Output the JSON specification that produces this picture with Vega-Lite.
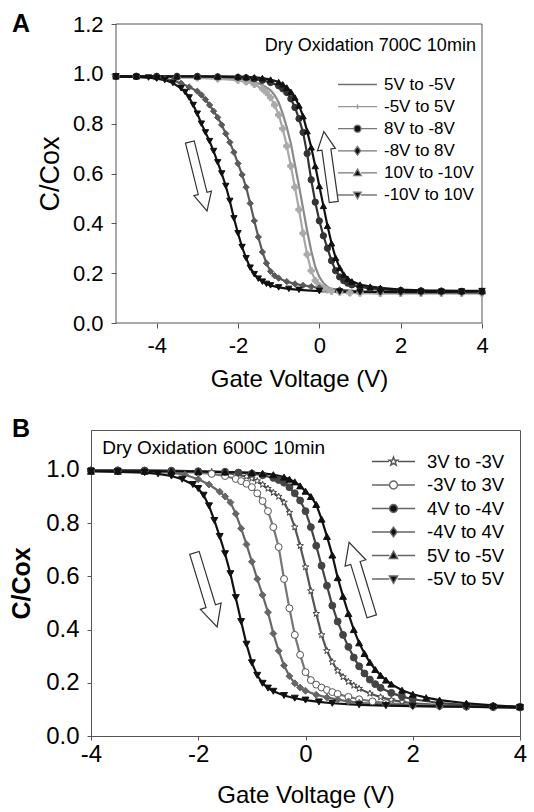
{
"$schema":"https://vega.github.io/schema/vega-lite/v6.json",
"background":"white",
"padding":{"left":9,"top":12,"right":0,"bottom":0},
"spacing":25,
"config":{"font":"Liberation Sans","view":{"stroke":"#555","strokeWidth":1},"axis":{"grid":false,"domainColor":"#555","tickColor":"#555","labelColor":"#000","titleColor":"#000","titleFontWeight":"normal","labelFlush":false},"legend":{"padding":0,"labelColor":"#000"}},
"datasets":{
"A":[
{"s":"5V to -5V","V":-5,"C":0.99},{"s":"5V to -5V","V":-4.5,"C":0.99},{"s":"5V to -5V","V":-4,"C":0.99},{"s":"5V to -5V","V":-3.5,"C":0.988},{"s":"5V to -5V","V":-3,"C":0.986},{"s":"5V to -5V","V":-2.5,"C":0.984},{"s":"5V to -5V","V":-2,"C":0.98},{"s":"5V to -5V","V":-1.8,"C":0.975},{"s":"5V to -5V","V":-1.6,"C":0.968},{"s":"5V to -5V","V":-1.4,"C":0.955},{"s":"5V to -5V","V":-1.2,"C":0.935},{"s":"5V to -5V","V":-1.1,"C":0.915},{"s":"5V to -5V","V":-1,"C":0.885},{"s":"5V to -5V","V":-0.9,"C":0.84},{"s":"5V to -5V","V":-0.8,"C":0.785},{"s":"5V to -5V","V":-0.7,"C":0.72},{"s":"5V to -5V","V":-0.6,"C":0.635},{"s":"5V to -5V","V":-0.5,"C":0.55},{"s":"5V to -5V","V":-0.4,"C":0.46},{"s":"5V to -5V","V":-0.3,"C":0.37},{"s":"5V to -5V","V":-0.2,"C":0.29},{"s":"5V to -5V","V":-0.1,"C":0.225},{"s":"5V to -5V","V":0,"C":0.185},{"s":"5V to -5V","V":0.1,"C":0.16},{"s":"5V to -5V","V":0.2,"C":0.145},{"s":"5V to -5V","V":0.3,"C":0.135},{"s":"5V to -5V","V":0.5,"C":0.127},{"s":"5V to -5V","V":0.75,"C":0.123},{"s":"5V to -5V","V":1,"C":0.121},{"s":"5V to -5V","V":1.5,"C":0.12},{"s":"5V to -5V","V":2,"C":0.12},{"s":"5V to -5V","V":2.5,"C":0.12},{"s":"5V to -5V","V":3,"C":0.12},{"s":"5V to -5V","V":3.5,"C":0.12},{"s":"5V to -5V","V":4,"C":0.12},
{"s":"-5V to 5V","V":-5,"C":0.99},{"s":"-5V to 5V","V":-4.5,"C":0.99},{"s":"-5V to 5V","V":-4,"C":0.988},{"s":"-5V to 5V","V":-3.5,"C":0.986},{"s":"-5V to 5V","V":-3,"C":0.984},{"s":"-5V to 5V","V":-2.5,"C":0.98},{"s":"-5V to 5V","V":-2,"C":0.975},{"s":"-5V to 5V","V":-1.8,"C":0.968},{"s":"-5V to 5V","V":-1.6,"C":0.958},{"s":"-5V to 5V","V":-1.4,"C":0.94},{"s":"-5V to 5V","V":-1.3,"C":0.925},{"s":"-5V to 5V","V":-1.2,"C":0.905},{"s":"-5V to 5V","V":-1.1,"C":0.875},{"s":"-5V to 5V","V":-1,"C":0.835},{"s":"-5V to 5V","V":-0.9,"C":0.78},{"s":"-5V to 5V","V":-0.8,"C":0.71},{"s":"-5V to 5V","V":-0.7,"C":0.63},{"s":"-5V to 5V","V":-0.6,"C":0.545},{"s":"-5V to 5V","V":-0.5,"C":0.455},{"s":"-5V to 5V","V":-0.4,"C":0.36},{"s":"-5V to 5V","V":-0.3,"C":0.275},{"s":"-5V to 5V","V":-0.2,"C":0.21},{"s":"-5V to 5V","V":-0.1,"C":0.17},{"s":"-5V to 5V","V":0,"C":0.15},{"s":"-5V to 5V","V":0.1,"C":0.14},{"s":"-5V to 5V","V":0.2,"C":0.133},{"s":"-5V to 5V","V":0.3,"C":0.128},{"s":"-5V to 5V","V":0.5,"C":0.124},{"s":"-5V to 5V","V":0.75,"C":0.121},{"s":"-5V to 5V","V":1,"C":0.12},{"s":"-5V to 5V","V":1.5,"C":0.119},{"s":"-5V to 5V","V":2,"C":0.119},{"s":"-5V to 5V","V":2.5,"C":0.119},{"s":"-5V to 5V","V":3,"C":0.119},{"s":"-5V to 5V","V":3.5,"C":0.119},{"s":"-5V to 5V","V":4,"C":0.119},
{"s":"-8V to 8V","V":-5,"C":0.99},{"s":"-8V to 8V","V":-4.5,"C":0.988},{"s":"-8V to 8V","V":-4,"C":0.984},{"s":"-8V to 8V","V":-3.8,"C":0.98},{"s":"-8V to 8V","V":-3.6,"C":0.973},{"s":"-8V to 8V","V":-3.4,"C":0.962},{"s":"-8V to 8V","V":-3.2,"C":0.947},{"s":"-8V to 8V","V":-3,"C":0.93},{"s":"-8V to 8V","V":-2.9,"C":0.915},{"s":"-8V to 8V","V":-2.8,"C":0.897},{"s":"-8V to 8V","V":-2.7,"C":0.875},{"s":"-8V to 8V","V":-2.6,"C":0.85},{"s":"-8V to 8V","V":-2.5,"C":0.825},{"s":"-8V to 8V","V":-2.4,"C":0.795},{"s":"-8V to 8V","V":-2.3,"C":0.76},{"s":"-8V to 8V","V":-2.2,"C":0.725},{"s":"-8V to 8V","V":-2.1,"C":0.685},{"s":"-8V to 8V","V":-2,"C":0.64},{"s":"-8V to 8V","V":-1.9,"C":0.595},{"s":"-8V to 8V","V":-1.8,"C":0.545},{"s":"-8V to 8V","V":-1.7,"C":0.48},{"s":"-8V to 8V","V":-1.6,"C":0.41},{"s":"-8V to 8V","V":-1.5,"C":0.345},{"s":"-8V to 8V","V":-1.4,"C":0.285},{"s":"-8V to 8V","V":-1.3,"C":0.24},{"s":"-8V to 8V","V":-1.2,"C":0.207},{"s":"-8V to 8V","V":-1.1,"C":0.19},{"s":"-8V to 8V","V":-1,"C":0.18},{"s":"-8V to 8V","V":-0.8,"C":0.166},{"s":"-8V to 8V","V":-0.6,"C":0.157},{"s":"-8V to 8V","V":-0.4,"C":0.151},{"s":"-8V to 8V","V":-0.2,"C":0.146},{"s":"-8V to 8V","V":0,"C":0.141},{"s":"-8V to 8V","V":0.5,"C":0.133},{"s":"-8V to 8V","V":1,"C":0.127},{"s":"-8V to 8V","V":1.5,"C":0.124},{"s":"-8V to 8V","V":2,"C":0.122},{"s":"-8V to 8V","V":2.5,"C":0.122},{"s":"-8V to 8V","V":3,"C":0.122},{"s":"-8V to 8V","V":3.5,"C":0.122},{"s":"-8V to 8V","V":4,"C":0.122},
{"s":"8V to -8V","V":-5,"C":0.99},{"s":"8V to -8V","V":-4.5,"C":0.99},{"s":"8V to -8V","V":-4,"C":0.99},{"s":"8V to -8V","V":-3.5,"C":0.99},{"s":"8V to -8V","V":-3,"C":0.99},{"s":"8V to -8V","V":-2.5,"C":0.988},{"s":"8V to -8V","V":-2,"C":0.986},{"s":"8V to -8V","V":-1.8,"C":0.984},{"s":"8V to -8V","V":-1.6,"C":0.98},{"s":"8V to -8V","V":-1.4,"C":0.974},{"s":"8V to -8V","V":-1.2,"C":0.965},{"s":"8V to -8V","V":-1,"C":0.952},{"s":"8V to -8V","V":-0.9,"C":0.94},{"s":"8V to -8V","V":-0.8,"C":0.925},{"s":"8V to -8V","V":-0.7,"C":0.9},{"s":"8V to -8V","V":-0.6,"C":0.865},{"s":"8V to -8V","V":-0.5,"C":0.82},{"s":"8V to -8V","V":-0.4,"C":0.765},{"s":"8V to -8V","V":-0.3,"C":0.68},{"s":"8V to -8V","V":-0.2,"C":0.575},{"s":"8V to -8V","V":-0.1,"C":0.485},{"s":"8V to -8V","V":0,"C":0.41},{"s":"8V to -8V","V":0.1,"C":0.35},{"s":"8V to -8V","V":0.2,"C":0.3},{"s":"8V to -8V","V":0.3,"C":0.25},{"s":"8V to -8V","V":0.4,"C":0.21},{"s":"8V to -8V","V":0.5,"C":0.185},{"s":"8V to -8V","V":0.6,"C":0.17},{"s":"8V to -8V","V":0.7,"C":0.16},{"s":"8V to -8V","V":0.8,"C":0.153},{"s":"8V to -8V","V":1,"C":0.145},{"s":"8V to -8V","V":1.25,"C":0.139},{"s":"8V to -8V","V":1.5,"C":0.135},{"s":"8V to -8V","V":2,"C":0.131},{"s":"8V to -8V","V":2.5,"C":0.129},{"s":"8V to -8V","V":3,"C":0.128},{"s":"8V to -8V","V":3.5,"C":0.127},{"s":"8V to -8V","V":4,"C":0.127},
{"s":"10V to -10V","V":-5,"C":0.99},{"s":"10V to -10V","V":-4.5,"C":0.99},{"s":"10V to -10V","V":-4,"C":0.99},{"s":"10V to -10V","V":-3.5,"C":0.99},{"s":"10V to -10V","V":-3,"C":0.99},{"s":"10V to -10V","V":-2.5,"C":0.99},{"s":"10V to -10V","V":-2,"C":0.989},{"s":"10V to -10V","V":-1.8,"C":0.988},{"s":"10V to -10V","V":-1.6,"C":0.986},{"s":"10V to -10V","V":-1.4,"C":0.983},{"s":"10V to -10V","V":-1.2,"C":0.977},{"s":"10V to -10V","V":-1,"C":0.967},{"s":"10V to -10V","V":-0.9,"C":0.958},{"s":"10V to -10V","V":-0.8,"C":0.945},{"s":"10V to -10V","V":-0.7,"C":0.928},{"s":"10V to -10V","V":-0.6,"C":0.905},{"s":"10V to -10V","V":-0.5,"C":0.873},{"s":"10V to -10V","V":-0.4,"C":0.83},{"s":"10V to -10V","V":-0.3,"C":0.77},{"s":"10V to -10V","V":-0.2,"C":0.705},{"s":"10V to -10V","V":-0.1,"C":0.63},{"s":"10V to -10V","V":0,"C":0.55},{"s":"10V to -10V","V":0.1,"C":0.47},{"s":"10V to -10V","V":0.2,"C":0.39},{"s":"10V to -10V","V":0.3,"C":0.32},{"s":"10V to -10V","V":0.4,"C":0.262},{"s":"10V to -10V","V":0.5,"C":0.222},{"s":"10V to -10V","V":0.6,"C":0.195},{"s":"10V to -10V","V":0.7,"C":0.178},{"s":"10V to -10V","V":0.8,"C":0.167},{"s":"10V to -10V","V":1,"C":0.154},{"s":"10V to -10V","V":1.25,"C":0.146},{"s":"10V to -10V","V":1.5,"C":0.141},{"s":"10V to -10V","V":2,"C":0.134},{"s":"10V to -10V","V":2.5,"C":0.131},{"s":"10V to -10V","V":3,"C":0.13},{"s":"10V to -10V","V":3.5,"C":0.129},{"s":"10V to -10V","V":4,"C":0.129},
{"s":"-10V to 10V","V":-5,"C":0.99},{"s":"-10V to 10V","V":-4.5,"C":0.988},{"s":"-10V to 10V","V":-4.2,"C":0.985},{"s":"-10V to 10V","V":-4,"C":0.981},{"s":"-10V to 10V","V":-3.8,"C":0.975},{"s":"-10V to 10V","V":-3.6,"C":0.963},{"s":"-10V to 10V","V":-3.4,"C":0.942},{"s":"-10V to 10V","V":-3.3,"C":0.927},{"s":"-10V to 10V","V":-3.2,"C":0.905},{"s":"-10V to 10V","V":-3.1,"C":0.875},{"s":"-10V to 10V","V":-3,"C":0.84},{"s":"-10V to 10V","V":-2.9,"C":0.8},{"s":"-10V to 10V","V":-2.8,"C":0.765},{"s":"-10V to 10V","V":-2.7,"C":0.73},{"s":"-10V to 10V","V":-2.6,"C":0.69},{"s":"-10V to 10V","V":-2.5,"C":0.645},{"s":"-10V to 10V","V":-2.4,"C":0.6},{"s":"-10V to 10V","V":-2.3,"C":0.55},{"s":"-10V to 10V","V":-2.2,"C":0.49},{"s":"-10V to 10V","V":-2.1,"C":0.42},{"s":"-10V to 10V","V":-2,"C":0.36},{"s":"-10V to 10V","V":-1.9,"C":0.305},{"s":"-10V to 10V","V":-1.8,"C":0.26},{"s":"-10V to 10V","V":-1.7,"C":0.222},{"s":"-10V to 10V","V":-1.6,"C":0.196},{"s":"-10V to 10V","V":-1.5,"C":0.178},{"s":"-10V to 10V","V":-1.4,"C":0.166},{"s":"-10V to 10V","V":-1.3,"C":0.157},{"s":"-10V to 10V","V":-1.2,"C":0.151},{"s":"-10V to 10V","V":-1,"C":0.143},{"s":"-10V to 10V","V":-0.75,"C":0.137},{"s":"-10V to 10V","V":-0.5,"C":0.133},{"s":"-10V to 10V","V":0,"C":0.128},{"s":"-10V to 10V","V":0.5,"C":0.126},{"s":"-10V to 10V","V":1,"C":0.125},{"s":"-10V to 10V","V":1.5,"C":0.125},{"s":"-10V to 10V","V":2,"C":0.125},{"s":"-10V to 10V","V":2.5,"C":0.125},{"s":"-10V to 10V","V":3,"C":0.125},{"s":"-10V to 10V","V":3.5,"C":0.126},{"s":"-10V to 10V","V":4,"C":0.128}
],
"B":[
{"s":"3V to -3V","V":-4,"C":0.998},{"s":"3V to -3V","V":-3.5,"C":0.998},{"s":"3V to -3V","V":-3,"C":0.997},{"s":"3V to -3V","V":-2.5,"C":0.996},{"s":"3V to -3V","V":-2,"C":0.995},{"s":"3V to -3V","V":-1.75,"C":0.993},{"s":"3V to -3V","V":-1.5,"C":0.99},{"s":"3V to -3V","V":-1.3,"C":0.983},{"s":"3V to -3V","V":-1.1,"C":0.975},{"s":"3V to -3V","V":-1,"C":0.968},{"s":"3V to -3V","V":-0.9,"C":0.958},{"s":"3V to -3V","V":-0.8,"C":0.945},{"s":"3V to -3V","V":-0.7,"C":0.93},{"s":"3V to -3V","V":-0.6,"C":0.915},{"s":"3V to -3V","V":-0.5,"C":0.9},{"s":"3V to -3V","V":-0.4,"C":0.878},{"s":"3V to -3V","V":-0.3,"C":0.84},{"s":"3V to -3V","V":-0.2,"C":0.785},{"s":"3V to -3V","V":-0.1,"C":0.715},{"s":"3V to -3V","V":0,"C":0.635},{"s":"3V to -3V","V":0.1,"C":0.545},{"s":"3V to -3V","V":0.2,"C":0.46},{"s":"3V to -3V","V":0.3,"C":0.38},{"s":"3V to -3V","V":0.4,"C":0.32},{"s":"3V to -3V","V":0.5,"C":0.278},{"s":"3V to -3V","V":0.6,"C":0.245},{"s":"3V to -3V","V":0.7,"C":0.222},{"s":"3V to -3V","V":0.8,"C":0.204},{"s":"3V to -3V","V":0.9,"C":0.19},{"s":"3V to -3V","V":1,"C":0.178},{"s":"3V to -3V","V":1.2,"C":0.16},{"s":"3V to -3V","V":1.4,"C":0.146},{"s":"3V to -3V","V":1.6,"C":0.136},{"s":"3V to -3V","V":1.8,"C":0.128},{"s":"3V to -3V","V":2,"C":0.123},{"s":"3V to -3V","V":2.5,"C":0.116},{"s":"3V to -3V","V":3,"C":0.112},{"s":"3V to -3V","V":3.5,"C":0.11},{"s":"3V to -3V","V":4,"C":0.108},
{"s":"-3V to 3V","V":-4,"C":0.998},{"s":"-3V to 3V","V":-3.5,"C":0.998},{"s":"-3V to 3V","V":-3,"C":0.996},{"s":"-3V to 3V","V":-2.5,"C":0.994},{"s":"-3V to 3V","V":-2,"C":0.99},{"s":"-3V to 3V","V":-1.75,"C":0.985},{"s":"-3V to 3V","V":-1.5,"C":0.977},{"s":"-3V to 3V","V":-1.3,"C":0.966},{"s":"-3V to 3V","V":-1.2,"C":0.958},{"s":"-3V to 3V","V":-1.1,"C":0.948},{"s":"-3V to 3V","V":-1,"C":0.935},{"s":"-3V to 3V","V":-0.9,"C":0.912},{"s":"-3V to 3V","V":-0.8,"C":0.883},{"s":"-3V to 3V","V":-0.7,"C":0.845},{"s":"-3V to 3V","V":-0.6,"C":0.785},{"s":"-3V to 3V","V":-0.5,"C":0.71},{"s":"-3V to 3V","V":-0.4,"C":0.59},{"s":"-3V to 3V","V":-0.3,"C":0.48},{"s":"-3V to 3V","V":-0.2,"C":0.38},{"s":"-3V to 3V","V":-0.1,"C":0.305},{"s":"-3V to 3V","V":0,"C":0.24},{"s":"-3V to 3V","V":0.1,"C":0.21},{"s":"-3V to 3V","V":0.2,"C":0.193},{"s":"-3V to 3V","V":0.3,"C":0.182},{"s":"-3V to 3V","V":0.4,"C":0.173},{"s":"-3V to 3V","V":0.5,"C":0.165},{"s":"-3V to 3V","V":0.6,"C":0.158},{"s":"-3V to 3V","V":0.8,"C":0.147},{"s":"-3V to 3V","V":1,"C":0.138},{"s":"-3V to 3V","V":1.25,"C":0.13},{"s":"-3V to 3V","V":1.5,"C":0.124},{"s":"-3V to 3V","V":2,"C":0.117},{"s":"-3V to 3V","V":2.5,"C":0.113},{"s":"-3V to 3V","V":3,"C":0.11},{"s":"-3V to 3V","V":3.5,"C":0.108},{"s":"-3V to 3V","V":4,"C":0.107},
{"s":"-4V to 4V","V":-4,"C":0.998},{"s":"-4V to 4V","V":-3.5,"C":0.997},{"s":"-4V to 4V","V":-3,"C":0.995},{"s":"-4V to 4V","V":-2.5,"C":0.99},{"s":"-4V to 4V","V":-2.25,"C":0.982},{"s":"-4V to 4V","V":-2,"C":0.965},{"s":"-4V to 4V","V":-1.8,"C":0.945},{"s":"-4V to 4V","V":-1.6,"C":0.918},{"s":"-4V to 4V","V":-1.5,"C":0.9},{"s":"-4V to 4V","V":-1.4,"C":0.878},{"s":"-4V to 4V","V":-1.3,"C":0.835},{"s":"-4V to 4V","V":-1.2,"C":0.78},{"s":"-4V to 4V","V":-1.1,"C":0.72},{"s":"-4V to 4V","V":-1,"C":0.655},{"s":"-4V to 4V","V":-0.9,"C":0.59},{"s":"-4V to 4V","V":-0.8,"C":0.53},{"s":"-4V to 4V","V":-0.7,"C":0.465},{"s":"-4V to 4V","V":-0.6,"C":0.385},{"s":"-4V to 4V","V":-0.5,"C":0.32},{"s":"-4V to 4V","V":-0.4,"C":0.265},{"s":"-4V to 4V","V":-0.3,"C":0.225},{"s":"-4V to 4V","V":-0.2,"C":0.198},{"s":"-4V to 4V","V":-0.1,"C":0.182},{"s":"-4V to 4V","V":0,"C":0.17},{"s":"-4V to 4V","V":0.2,"C":0.155},{"s":"-4V to 4V","V":0.4,"C":0.145},{"s":"-4V to 4V","V":0.6,"C":0.137},{"s":"-4V to 4V","V":0.8,"C":0.13},{"s":"-4V to 4V","V":1,"C":0.125},{"s":"-4V to 4V","V":1.5,"C":0.118},{"s":"-4V to 4V","V":2,"C":0.113},{"s":"-4V to 4V","V":2.5,"C":0.11},{"s":"-4V to 4V","V":3,"C":0.109},{"s":"-4V to 4V","V":3.5,"C":0.108},{"s":"-4V to 4V","V":4,"C":0.107},
{"s":"4V to -4V","V":-4,"C":0.998},{"s":"4V to -4V","V":-3.5,"C":0.998},{"s":"4V to -4V","V":-3,"C":0.998},{"s":"4V to -4V","V":-2.5,"C":0.997},{"s":"4V to -4V","V":-2,"C":0.995},{"s":"4V to -4V","V":-1.5,"C":0.993},{"s":"4V to -4V","V":-1.25,"C":0.99},{"s":"4V to -4V","V":-1,"C":0.986},{"s":"4V to -4V","V":-0.8,"C":0.98},{"s":"4V to -4V","V":-0.6,"C":0.97},{"s":"4V to -4V","V":-0.5,"C":0.962},{"s":"4V to -4V","V":-0.4,"C":0.952},{"s":"4V to -4V","V":-0.3,"C":0.935},{"s":"4V to -4V","V":-0.2,"C":0.912},{"s":"4V to -4V","V":-0.1,"C":0.885},{"s":"4V to -4V","V":0,"C":0.845},{"s":"4V to -4V","V":0.1,"C":0.785},{"s":"4V to -4V","V":0.2,"C":0.715},{"s":"4V to -4V","V":0.3,"C":0.64},{"s":"4V to -4V","V":0.4,"C":0.565},{"s":"4V to -4V","V":0.5,"C":0.49},{"s":"4V to -4V","V":0.6,"C":0.43},{"s":"4V to -4V","V":0.7,"C":0.38},{"s":"4V to -4V","V":0.8,"C":0.335},{"s":"4V to -4V","V":0.9,"C":0.295},{"s":"4V to -4V","V":1,"C":0.262},{"s":"4V to -4V","V":1.1,"C":0.235},{"s":"4V to -4V","V":1.2,"C":0.212},{"s":"4V to -4V","V":1.3,"C":0.195},{"s":"4V to -4V","V":1.4,"C":0.181},{"s":"4V to -4V","V":1.6,"C":0.162},{"s":"4V to -4V","V":1.8,"C":0.148},{"s":"4V to -4V","V":2,"C":0.138},{"s":"4V to -4V","V":2.5,"C":0.124},{"s":"4V to -4V","V":3,"C":0.116},{"s":"4V to -4V","V":3.5,"C":0.112},{"s":"4V to -4V","V":4,"C":0.11},
{"s":"5V to -5V","V":-4,"C":0.995},{"s":"5V to -5V","V":-3.5,"C":0.995},{"s":"5V to -5V","V":-3,"C":0.995},{"s":"5V to -5V","V":-2.5,"C":0.995},{"s":"5V to -5V","V":-2,"C":0.994},{"s":"5V to -5V","V":-1.5,"C":0.992},{"s":"5V to -5V","V":-1,"C":0.99},{"s":"5V to -5V","V":-0.8,"C":0.987},{"s":"5V to -5V","V":-0.6,"C":0.982},{"s":"5V to -5V","V":-0.4,"C":0.973},{"s":"5V to -5V","V":-0.3,"C":0.965},{"s":"5V to -5V","V":-0.2,"C":0.955},{"s":"5V to -5V","V":-0.1,"C":0.94},{"s":"5V to -5V","V":0,"C":0.92},{"s":"5V to -5V","V":0.1,"C":0.9},{"s":"5V to -5V","V":0.2,"C":0.87},{"s":"5V to -5V","V":0.3,"C":0.815},{"s":"5V to -5V","V":0.4,"C":0.75},{"s":"5V to -5V","V":0.5,"C":0.68},{"s":"5V to -5V","V":0.6,"C":0.595},{"s":"5V to -5V","V":0.7,"C":0.525},{"s":"5V to -5V","V":0.8,"C":0.46},{"s":"5V to -5V","V":0.9,"C":0.4},{"s":"5V to -5V","V":1,"C":0.35},{"s":"5V to -5V","V":1.1,"C":0.31},{"s":"5V to -5V","V":1.2,"C":0.277},{"s":"5V to -5V","V":1.3,"C":0.25},{"s":"5V to -5V","V":1.4,"C":0.228},{"s":"5V to -5V","V":1.5,"C":0.21},{"s":"5V to -5V","V":1.6,"C":0.195},{"s":"5V to -5V","V":1.8,"C":0.172},{"s":"5V to -5V","V":2,"C":0.157},{"s":"5V to -5V","V":2.25,"C":0.144},{"s":"5V to -5V","V":2.5,"C":0.135},{"s":"5V to -5V","V":3,"C":0.123},{"s":"5V to -5V","V":3.5,"C":0.115},{"s":"5V to -5V","V":4,"C":0.11},
{"s":"-5V to 5V","V":-4,"C":0.995},{"s":"-5V to 5V","V":-3.5,"C":0.993},{"s":"-5V to 5V","V":-3,"C":0.99},{"s":"-5V to 5V","V":-2.75,"C":0.985},{"s":"-5V to 5V","V":-2.5,"C":0.977},{"s":"-5V to 5V","V":-2.3,"C":0.965},{"s":"-5V to 5V","V":-2.1,"C":0.945},{"s":"-5V to 5V","V":-2,"C":0.93},{"s":"-5V to 5V","V":-1.9,"C":0.905},{"s":"-5V to 5V","V":-1.8,"C":0.865},{"s":"-5V to 5V","V":-1.7,"C":0.81},{"s":"-5V to 5V","V":-1.6,"C":0.75},{"s":"-5V to 5V","V":-1.5,"C":0.685},{"s":"-5V to 5V","V":-1.4,"C":0.61},{"s":"-5V to 5V","V":-1.3,"C":0.52},{"s":"-5V to 5V","V":-1.2,"C":0.43},{"s":"-5V to 5V","V":-1.1,"C":0.345},{"s":"-5V to 5V","V":-1,"C":0.275},{"s":"-5V to 5V","V":-0.9,"C":0.228},{"s":"-5V to 5V","V":-0.8,"C":0.198},{"s":"-5V to 5V","V":-0.7,"C":0.18},{"s":"-5V to 5V","V":-0.6,"C":0.168},{"s":"-5V to 5V","V":-0.4,"C":0.152},{"s":"-5V to 5V","V":-0.2,"C":0.142},{"s":"-5V to 5V","V":0,"C":0.135},{"s":"-5V to 5V","V":0.25,"C":0.128},{"s":"-5V to 5V","V":0.5,"C":0.123},{"s":"-5V to 5V","V":1,"C":0.117},{"s":"-5V to 5V","V":1.5,"C":0.114},{"s":"-5V to 5V","V":2,"C":0.112},{"s":"-5V to 5V","V":2.5,"C":0.111},{"s":"-5V to 5V","V":3,"C":0.11},{"s":"-5V to 5V","V":3.5,"C":0.108},{"s":"-5V to 5V","V":4,"C":0.107}
],
"An":[
{"k":"title","t":"Dry Oxidation 700C 10min","V":3.85,"C":1.112},
{"k":"letter","t":"A","V":-7.555,"C":1.248},
{"k":"arrowL","t":"","V":-2.973,"C":0.588},
{"k":"arrowR","t":"","V":0.233,"C":0.627}
],
"Bn":[
{"k":"title","t":"Dry Oxidation 600C 10min","V":-3.79,"C":1.083},
{"k":"letter","t":"B","V":-5.474,"C":1.199},
{"k":"arrowL","t":"","V":-1.86,"C":0.549},
{"k":"arrowR","t":"","V":1.024,"C":0.589}
]
},
"resolve":{"scale":{"x":"independent","y":"independent","color":"independent","shape":"independent","fill":"independent","stroke":"independent"},"legend":{"shape":"independent","color":"independent","fill":"independent","stroke":"independent"}},
"vconcat":[
{
"width":391,"height":299,
"view":{"stroke":null},
"resolve":{"scale":{"shape":"independent","fill":"independent","stroke":"independent"}},
"encoding":{
"x":{"field":"V","type":"quantitative","scale":{"domain":[-5,4],"nice":false,"range":[25,391]},"axis":{"values":[-4,-2,0,2,4],"domain":false,"labelExpr":"datum.value < 0 ? '-' + format(-datum.value, 'd') : format(datum.value, 'd')","title":"Gate Voltage (V)","labelFontSize":22,"titleFontSize":24,"tickSize":5,"labelPadding":7,"titlePadding":11}},
"y":{"field":"C","type":"quantitative","scale":{"domain":[0,1.2],"nice":false},"axis":{"values":[0,0.2,0.4,0.6,0.8,1,1.2],"domain":false,"offset":-25,"format":".1f","title":"C/Cox","labelFontSize":22,"titleFontSize":27,"tickSize":5,"labelPadding":8,"titlePadding":8}}
},
"layer":[
{"data":{"name":"An"},"transform":[{"filter":"datum.k==='letter'"}],"mark":{"type":"rect","fill":null,"stroke":"#555555","strokeWidth":1},"encoding":{"x":{"datum":-5,"type":"quantitative"},"x2":{"datum":4},"y":{"datum":0,"type":"quantitative"},"y2":{"datum":1.2}}},
{"data":{"name":"A"},"mark":{"type":"line","strokeWidth":2.2},
"encoding":{"color":{"field":"s","type":"nominal","scale":{"domain":["8V to -8V","-8V to 8V","10V to -10V","-10V to 10V","5V to -5V","-5V to 5V"],"range":["#333333","#5a5a5a","#111111","#111111","#8a8a8a","#a8a8a8"]},"legend":null}}},
{"data":{"name":"A"},"mark":{"type":"point","opacity":1,"strokeWidth":1},
"encoding":{
"shape":{"field":"s","type":"nominal","scale":{"domain":["5V to -5V","-5V to 5V","8V to -8V","-8V to 8V","10V to -10V","-10V to 10V"],"range":["circle","cross","circle","diamond","triangle-up","triangle-down"]},"legend":null},
"fill":{"field":"s","type":"nominal","scale":{"domain":["-10V to 10V","10V to -10V","-8V to 8V","8V to -8V","-5V to 5V","5V to -5V"],"range":["#111111","#111111","#5a5a5a","#333333","#aaaaaa","transparent"]},"legend":null},
"stroke":{"field":"s","type":"nominal","scale":{"domain":["-5V to 5V","8V to -8V","-8V to 8V","10V to -10V","-10V to 10V","5V to -5V"],"range":["#aaaaaa","#333333","#5a5a5a","#111111","#111111","transparent"]},"legend":null},
"size":{"value":40}
}},
{"data":{"name":"A"},"transform":[{"filter":"false"}],"mark":{"type":"point","filled":true,"opacity":1,"strokeWidth":1.3},
"encoding":{
"shape":{"field":"s","type":"nominal","scale":{"domain":["5V to -5V","-5V to 5V","8V to -8V","-8V to 8V","10V to -10V","-10V to 10V"],"range":["M-2,0H2","M-2,0H2M-0.25,0H0.25M0,-0.25V0.25","M-2,0H-0.36M0.36,0H2M-0.36,0A0.36,0.36 0 1,0 0.36,0A0.36,0.36 0 1,0 -0.36,0Z","M-2,0H-0.33M0.33,0H2M0,-0.45L0.33,0L0,0.45L-0.33,0Z","M-2,0H-0.38M0.38,0H2M0,-0.4L0.38,0.28L-0.38,0.28Z","M-2,0H-0.38M0.38,0H2M0,0.4L0.38,-0.28L-0.38,-0.28Z"]},
"legend":{"title":null,"orient":"none","legendX":256,"legendY":50,"symbolSize":380,"labelFontSize":17,"labelOffset":16,"rowPadding":3.1,"symbolStrokeWidth":1.3}},
"fill":{"field":"s","type":"nominal","scale":{"domain":["5V to -5V","-5V to 5V","8V to -8V","-8V to 8V","10V to -10V","-10V to 10V"],"range":["transparent","transparent","#111111","#111111","#111111","#111111"]},
"legend":{"title":null,"orient":"none","legendX":256,"legendY":50,"symbolSize":380,"labelFontSize":17,"labelOffset":16,"rowPadding":3.1,"symbolStrokeWidth":1.3}},
"stroke":{"field":"s","type":"nominal","scale":{"domain":["5V to -5V","-5V to 5V","8V to -8V","-8V to 8V","10V to -10V","-10V to 10V"],"range":["#707070","#999999","#777777","#777777","#777777","#777777"]},
"legend":{"title":null,"orient":"none","legendX":256,"legendY":50,"symbolSize":380,"labelFontSize":17,"labelOffset":16,"rowPadding":3.1,"symbolStrokeWidth":1.3}}
}},
{"data":{"name":"An"},"transform":[{"filter":"datum.k==='title'"}],"mark":{"type":"text","align":"right","baseline":"middle","fontSize":18,"color":"#000"},"encoding":{"text":{"field":"t"}}},
{"data":{"name":"An"},"transform":[{"filter":"datum.k==='letter'"}],"mark":{"type":"text","align":"left","baseline":"top","fontSize":25,"fontWeight":"bold","color":"#000"},"encoding":{"text":{"field":"t"}}},
{"data":{"name":"An"},"transform":[{"filter":"datum.k==='arrowL'"}],"mark":{"type":"point","shape":"M-0.127,-1L0.127,-1L0.127,0.49L0.254,0.49L0,1L-0.254,0.49L-0.127,0.49Z","size":5041,"angle":346,"fill":"white","stroke":"#333333","strokeWidth":1.2,"opacity":1}},
{"data":{"name":"An"},"transform":[{"filter":"datum.k==='arrowR'"}],"mark":{"type":"point","shape":"M-0.127,-1L0.127,-1L0.127,0.49L0.254,0.49L0,1L-0.254,0.49L-0.127,0.49Z","size":5041,"angle":172,"fill":"white","stroke":"#333333","strokeWidth":1.2,"opacity":1}}
]
},
{
"width":429,"height":306,
"resolve":{"scale":{"shape":"independent","fill":"independent","stroke":"independent"}},
"encoding":{
"x":{"field":"V","type":"quantitative","scale":{"domain":[-4,4],"nice":false},"axis":{"values":[-4,-2,0,2,4],"labelExpr":"datum.value < 0 ? '-' + format(-datum.value, 'd') : format(datum.value, 'd')","title":"Gate Voltage (V)","labelFontSize":24,"titleFontSize":24,"tickSize":4,"labelPadding":2,"titlePadding":17}},
"y":{"field":"C","type":"quantitative","scale":{"domain":[0,1.15],"nice":false},"axis":{"values":[0,0.2,0.4,0.6,0.8,1],"format":".1f","title":"C/Cox","labelFontSize":24,"titleFontSize":25,"titleFontWeight":"bold","tickSize":4,"labelPadding":8,"titlePadding":11}}
},
"layer":[
{"data":{"name":"B"},"mark":{"type":"line","strokeWidth":2.2},
"encoding":{"color":{"field":"s","type":"nominal","scale":{"domain":["4V to -4V","-4V to 4V","5V to -5V","-5V to 5V","3V to -3V","-3V to 3V"],"range":["#444444","#666666","#111111","#111111","#555555","#777777"]},"legend":null}}},
{"data":{"name":"B"},"mark":{"type":"point","opacity":1,"strokeWidth":1},
"encoding":{
"shape":{"field":"s","type":"nominal","scale":{"domain":["3V to -3V","-3V to 3V","4V to -4V","-4V to 4V","5V to -5V","-5V to 5V"],"range":["M0,-1L0.235,-0.324L0.951,-0.309L0.38,0.124L0.588,0.809L0,0.4L-0.588,0.809L-0.38,0.124L-0.951,-0.309L-0.235,-0.324Z","circle","circle","diamond","triangle-up","triangle-down"]},"legend":null},
"fill":{"field":"s","type":"nominal","scale":{"domain":["-5V to 5V","5V to -5V","-4V to 4V","4V to -4V","-3V to 3V","3V to -3V"],"range":["#111111","#111111","#666666","#444444","white","white"]},"legend":null},
"stroke":{"field":"s","type":"nominal","scale":{"domain":["-3V to 3V","4V to -4V","-4V to 4V","5V to -5V","-5V to 5V","3V to -3V"],"range":["#555555","#444444","#666666","#111111","#111111","#444444"]},"legend":null},
"size":{"value":48}
}},
{"data":{"name":"B"},"transform":[{"filter":"false"}],"mark":{"type":"point","filled":true,"opacity":1,"strokeWidth":1.4},
"encoding":{
"shape":{"field":"s","type":"nominal","scale":{"domain":["3V to -3V","-3V to 3V","4V to -4V","-4V to 4V","5V to -5V","-5V to 5V"],"range":["M-2,0H-0.42M0.42,0H2M0,-0.42L0.1,-0.138L0.399,-0.13L0.162,0.053L0.247,0.34L0,0.17L-0.247,0.34L-0.162,0.053L-0.399,-0.13L-0.1,-0.138Z","M-2,0H-0.37M0.37,0H2M-0.37,0A0.37,0.37 0 1,0 0.37,0A0.37,0.37 0 1,0 -0.37,0Z","M-2,0H-0.37M0.37,0H2M-0.37,0A0.37,0.37 0 1,0 0.37,0A0.37,0.37 0 1,0 -0.37,0Z","M-2,0H-0.33M0.33,0H2M0,-0.45L0.33,0L0,0.45L-0.33,0Z","M-2,0H-0.38M0.38,0H2M0,-0.4L0.38,0.28L-0.38,0.28Z","M-2,0H-0.38M0.38,0H2M0,0.4L0.38,-0.28L-0.38,-0.28Z"]},
"legend":{"title":null,"orient":"none","legendX":291,"legendY":20,"symbolSize":462,"labelFontSize":18.5,"labelOffset":22,"rowPadding":2.5,"symbolStrokeWidth":1.4}},
"fill":{"field":"s","type":"nominal","scale":{"domain":["3V to -3V","-3V to 3V","4V to -4V","-4V to 4V","5V to -5V","-5V to 5V"],"range":["white","white","#111111","#111111","#111111","#111111"]},
"legend":{"title":null,"orient":"none","legendX":291,"legendY":20,"symbolSize":462,"labelFontSize":18.5,"labelOffset":22,"rowPadding":2.5,"symbolStrokeWidth":1.4}},
"stroke":{"field":"s","type":"nominal","scale":{"domain":["3V to -3V","-3V to 3V","4V to -4V","-4V to 4V","5V to -5V","-5V to 5V"],"range":["#555555","#666666","#666666","#666666","#666666","#666666"]},
"legend":{"title":null,"orient":"none","legendX":291,"legendY":20,"symbolSize":462,"labelFontSize":18.5,"labelOffset":22,"rowPadding":2.5,"symbolStrokeWidth":1.4}}
}},
{"data":{"name":"Bn"},"transform":[{"filter":"datum.k==='title'"}],"mark":{"type":"text","align":"left","baseline":"middle","fontSize":19,"color":"#000"},"encoding":{"text":{"field":"t"}}},
{"data":{"name":"Bn"},"transform":[{"filter":"datum.k==='letter'"}],"mark":{"type":"text","align":"left","baseline":"top","fontSize":25,"fontWeight":"bold","color":"#000"},"encoding":{"text":{"field":"t"}}},
{"data":{"name":"Bn"},"transform":[{"filter":"datum.k==='arrowL'"}],"mark":{"type":"point","shape":"M-0.127,-1L0.127,-1L0.127,0.44L0.28,0.44L0,1L-0.28,0.44L-0.127,0.44Z","size":6000,"angle":343,"fill":"white","stroke":"#333333","strokeWidth":1.2,"opacity":1}},
{"data":{"name":"Bn"},"transform":[{"filter":"datum.k==='arrowR'"}],"mark":{"type":"point","shape":"M-0.127,-1L0.127,-1L0.127,0.44L0.28,0.44L0,1L-0.28,0.44L-0.127,0.44Z","size":6000,"angle":163,"fill":"white","stroke":"#333333","strokeWidth":1.2,"opacity":1}}
]
}
]
}
